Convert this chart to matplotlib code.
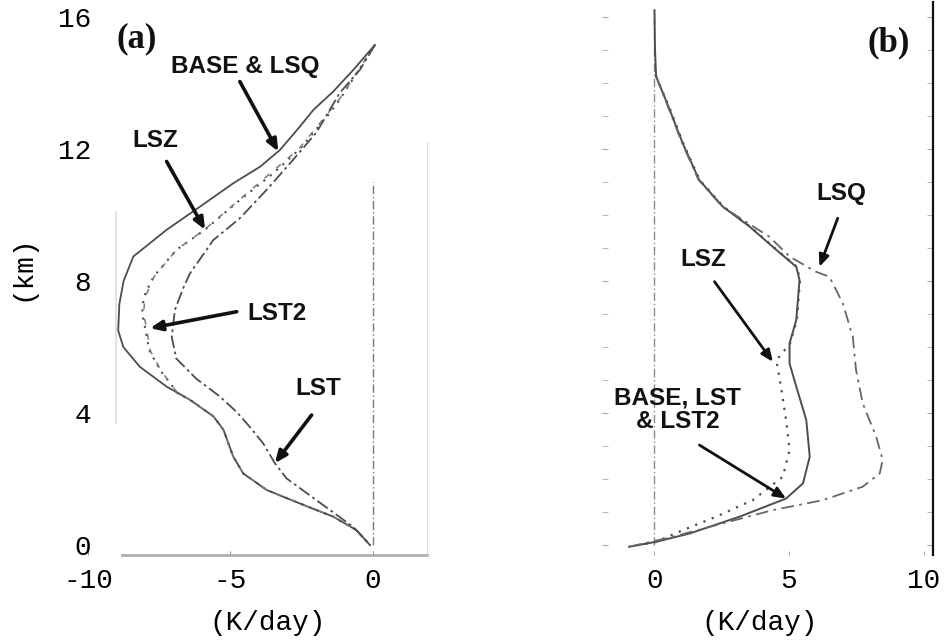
import matplotlib
matplotlib.use("Agg")
import matplotlib.pyplot as plt

# ---------------- data ----------------
# Panel (a): cooling profiles (K/day) vs height (km)
a_base_z = [15.15, 14.39, 13.74, 13.18, 12.68, 11.97, 11.46, 10.96, 10.25, 9.55, 8.74, 8.0, 7.3,
            6.5, 6.0, 5.4, 4.8, 4.4, 3.9, 3.5, 2.68, 2.17, 1.67, 1.26, 0.86, 0.45, 0.0]
a_base_x = [0.07, -0.69, -1.39, -2.09, -2.56, -3.26, -3.96, -4.9, -6.07, -7.24, -8.41, -8.75, -8.9,
            -8.94, -8.76, -8.18, -7.24, -6.42, -5.6, -5.25, -4.9, -4.55, -3.73, -2.56, -1.39,
            -0.57, -0.1]

a_lsz_z = [15.15, 13.5, 13.1, 12.0, 11.26, 10.45, 9.55, 8.94, 8.13, 7.5, 7.0, 6.6, 5.9, 5.3,
           4.6, 4.4, 3.9, 3.5, 2.68, 2.17, 1.67, 1.26, 0.86, 0.45, 0.0]
a_lsz_x = [0.07, -1.16, -1.5, -2.56, -3.5, -4.67, -5.9, -6.9, -7.7, -8.05, -8.1, -8.0, -7.85,
           -7.47, -6.85, -6.42, -5.6, -5.25, -4.9, -4.55, -3.73, -2.56, -1.39, -0.57, -0.1]

a_lst2_z = [15.15, 13.5, 12.0, 10.45, 9.55, 8.94, 8.13, 7.5, 7.0, 6.6, 5.9, 5.3, 4.6, 4.4,
            3.9, 3.5, 2.68, 2.17, 1.67, 1.26, 0.86, 0.45, 0.0]
a_lst2_x = [0.07, -1.18, -2.6, -4.7, -5.92, -6.9, -7.68, -8.0, -8.05, -7.95, -7.82, -7.45, -6.85,
            -6.42, -5.6, -5.25, -4.9, -4.55, -3.73, -2.56, -1.39, -0.57, -0.1]

a_lst_z = [15.15, 14.4, 13.7, 12.5, 11.67, 10.76, 9.9, 9.24, 8.23, 7.8, 7.12, 6.3, 5.65, 5.04,
           4.5, 4.03, 3.58, 3.08, 2.48, 2.02, 1.36, 0.55, 0.0]
a_lst_x = [0.07, -0.45, -1.16, -1.98, -2.8, -3.73, -4.67, -5.6, -6.42, -6.65, -6.95, -7.06, -6.9,
           -6.2, -5.37, -4.78, -4.32, -3.85, -3.44, -3.03, -1.98, -0.69, -0.1]

# Panel (b): heating profiles (K/day) vs height (km)
b_base_z = [16.2, 15.0, 14.2, 13.2, 12.17, 11.06, 10.25, 9.65, 8.94, 8.43, 8.03, 6.82, 6.11,
            5.5, 4.8, 3.79, 2.68, 1.87, 1.41, 0.86, 0.35, 0.1, -0.05]
b_base_x = [0.0, 0.02, 0.06, 0.56, 1.05, 1.66, 2.54, 3.53, 4.53, 5.27, 5.39, 5.27, 5.02,
            5.02, 5.27, 5.64, 5.77, 5.52, 4.89, 3.16, 1.3, 0.06, -0.94]

b_lsz_z = [14.2, 13.2, 12.17, 11.06, 10.25, 9.65, 8.94, 8.43, 8.03, 6.82, 6.11,
           5.6, 4.8, 3.79, 2.88, 2.07, 1.36, 0.86, 0.45, 0.1, -0.05]
b_lsz_x = [0.06, 0.58, 1.07, 1.68, 2.56, 3.55, 4.55, 5.29, 5.41, 5.29, 5.04,
           4.53, 4.7, 4.89, 5.02, 4.77, 3.65, 2.29, 1.05, 0.06, -0.94]

b_lsq_z = [14.2, 13.2, 12.17, 11.06, 10.25, 9.34, 8.74, 8.28, 8.13, 7.32, 6.31, 5.3,
           4.29, 3.28, 2.58, 2.17, 1.77, 1.36, 1.06, 0.66, 0.25, -0.05]
b_lsq_x = [0.06, 0.54, 1.03, 1.64, 2.52, 4.27, 5.02, 6.0, 6.5, 7.0, 7.37, 7.49,
           7.74, 8.24, 8.48, 8.37, 7.74, 6.25, 4.4, 2.54, 0.68, -0.94]

xticks_a = [-10, -5, 0]
xticks_b = [0, 5, 10]
yticks = [0, 4, 8, 12, 16]

# ---------------- figure ----------------
mono = "Liberation Mono"
sans = "Liberation Sans"
serif = "Liberation Serif"
line_col = "#4d4d4d"

fig = plt.figure(figsize=(9.46, 6.4), dpi=100)
axA = fig.add_axes([88 / 946, 1 - 555 / 640, 339 / 946, 553 / 640])
axB = fig.add_axes([602 / 946, 1 - 555 / 640, 331 / 946, 553 / 640])

for ax in (axA, axB):
    ax.set_ylim(-0.3, 16.45)
    for s in ax.spines.values():
        s.set_visible(False)

# ---- panel (a)
axA.set_xlim(-10, 1.9)
axA.axvline(0, ymin=0.3 / 16.75, ymax=11.3 / 16.75, color="#777777", lw=1.0,
            linestyle=(0, (6, 2, 1, 2)))
axA.plot(a_base_x, a_base_z, color=line_col, lw=1.3, linestyle="-")
axA.plot(a_lsz_x, a_lsz_z, color=line_col, lw=1.5, linestyle=(0, (1, 3)))
axA.plot(a_lst2_x, a_lst2_z, color="#7a7a7a", lw=1.1, linestyle=(0, (4, 6)))
axA.plot(a_lst_x, a_lst_z, color=line_col, lw=1.3, linestyle=(0, (7, 2, 1.5, 2)))

axA.spines["bottom"].set_visible(True)
axA.spines["bottom"].set_color("#b0b0b0")
axA.spines["bottom"].set_linewidth(2.0)
axA.spines["bottom"].set_bounds(-8.8, 1.9)
axA.spines["right"].set_visible(True)
axA.spines["right"].set_color("#e0e0e0")
axA.spines["right"].set_bounds(-0.3, 12.2)
axA.axvline(-9.0, ymin=4.0 / 16.75, ymax=10.4 / 16.75, color="#dddddd", lw=1.2)

axA.set_xticks(xticks_a)
axA.set_yticks(yticks)
axA.set_xticklabels([f"{t:d}" for t in xticks_a])
axA.set_yticklabels([f"{t:d}" for t in yticks])
axA.tick_params(axis="x", length=3, direction="in", color="#999999", pad=9,
                labelsize=20)
axA.tick_params(axis="y", length=0, pad=-2, labelsize=20)
for lab in axA.get_xticklabels() + axA.get_yticklabels():
    lab.set_fontfamily(mono)
axA.set_xlabel("(K/day)", fontfamily=mono, fontsize=20)
axA.xaxis.set_label_coords((268 - 88) / 339, (555 - 623) / 553)
axA.xaxis.label.set_va("center")
axA.set_ylabel("(km)", fontfamily=mono, fontsize=20)
axA.yaxis.set_label_coords((22 - 88) / 339, (555 - 268) / 553)
axA.yaxis.label.set_va("center")

arrow_kw = dict(arrowstyle="-|>,head_length=0.7,head_width=0.3", lw=2.6,
                color="#111111", shrinkA=0, shrinkB=0)
txt_kw = dict(fontfamily=sans, fontweight="bold", fontsize=17.5, color="#111111",
              ha="center", va="center")

axA.text(-8.29, 15.35, "(a)", fontfamily=serif, fontweight="bold", fontsize=25,
         ha="center", va="center", color="#111111")
axA.text(-4.49, 14.5, "BASE & LSQ", **txt_kw)
axA.annotate("", xy=(-3.32, 11.92), xytext=(-4.67, 14.04), arrowprops=arrow_kw)
axA.text(-7.65, 12.27, "LSZ", **txt_kw)
axA.annotate("", xy=(-5.89, 9.55), xytext=(-7.24, 11.62), arrowprops=arrow_kw)
axA.text(-3.37, 7.02, "LST2", **txt_kw)
axA.annotate("", xy=(-7.82, 6.57), xytext=(-4.78, 7.07), arrowprops=arrow_kw)
axA.text(-1.92, 4.75, "LST", **txt_kw)
axA.annotate("", xy=(-3.44, 2.48), xytext=(-2.15, 3.94), arrowprops=arrow_kw)

# ---- panel (b)
axB.set_xlim(-1.95, 10.35)
axB.axvline(0, ymin=0.3 / 16.75, ymax=16.5 / 16.75, color="#8a8a8a", lw=1.0,
            linestyle=(0, (6, 2, 1, 2)))
axB.plot(b_base_x, b_base_z, color=line_col, lw=1.4, linestyle="-")
axB.plot(b_lsz_x, b_lsz_z, color=line_col, lw=1.6, linestyle=(0, (1, 3)))
axB.plot(b_lsq_x, b_lsq_z, color="#666666", lw=1.3, linestyle=(0, (7, 3, 1.5, 3)))

axB.spines["right"].set_visible(True)
axB.spines["right"].set_color("#111111")
axB.spines["right"].set_linewidth(1.6)
axB.set_xticks(xticks_b)
axB.set_xticklabels([f"{t:d}" for t in xticks_b])
axB.set_yticks(yticks)
axB.set_yticks(range(1, 16), minor=True)
axB.tick_params(axis="x", length=3, direction="in", color="#aaaaaa", pad=9,
                labelsize=20)
axB.tick_params(axis="y", which="both", length=4, direction="in", color="#aaaaaa",
                labelleft=False, left=True, right=True)
for lab in axB.get_xticklabels():
    lab.set_fontfamily(mono)
axB.set_xlabel("(K/day)", fontfamily=mono, fontsize=20)
axB.xaxis.set_label_coords((760 - 602) / 331, (555 - 623) / 553)
axB.xaxis.label.set_va("center")

arrow_kw_b = dict(arrowstyle="-|>,head_length=0.7,head_width=0.3", lw=2.0,
                  color="#111111", shrinkA=0, shrinkB=0)
axB.text(8.7, 15.2, "(b)", fontfamily=serif, fontweight="bold", fontsize=25,
         ha="center", va="center", color="#111111")
axB.text(6.96, 10.66, "LSQ", **txt_kw)
axB.annotate("", xy=(6.13, 8.43), xytext=(6.81, 9.9), arrowprops=arrow_kw_b)
axB.text(1.8, 8.64, "LSZ", **txt_kw)
axB.annotate("", xy=(4.4, 5.55), xytext=(2.23, 7.98), arrowprops=arrow_kw_b)
axB.text(0.85, 4.1, "BASE, LST\n& LST2", linespacing=1.05, **txt_kw)
axB.annotate("", xy=(4.89, 1.41), xytext=(1.67, 3.03), arrowprops=arrow_kw_b)

fig.savefig("out.png", dpi=100, facecolor="white")
